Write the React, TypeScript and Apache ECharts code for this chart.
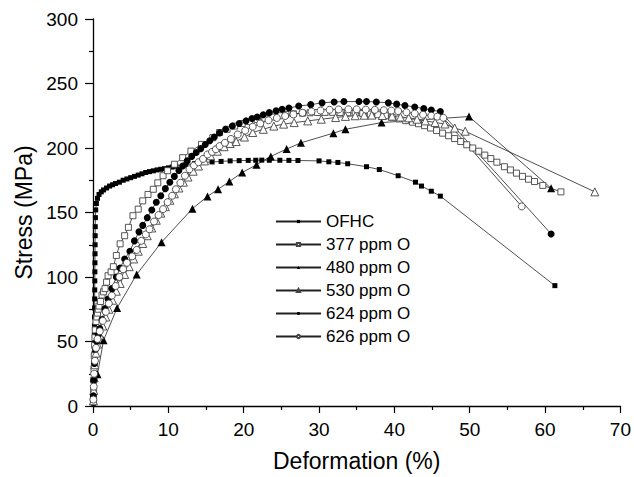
import React, { useEffect, useRef } from "react";
import * as echarts from "echarts";

const seriesNames = ["OFHC", "377 ppm O", "480 ppm O", "530 ppm O", "624 ppm O", "626 ppm O"];

const xRange = [0, 70];
const yRange = [0, 300];

const ofhc: number[][] = [
  [0.05, 2], [0.08, 8], [0.1, 14], [0.12, 20], [0.13, 27], [0.15, 34], [0.16, 41], [0.17, 48],
  [0.18, 55], [0.19, 62], [0.2, 69], [0.21, 76], [0.22, 83], [0.23, 90], [0.24, 97], [0.25, 104],
  [0.26, 111], [0.27, 118], [0.28, 125], [0.29, 132], [0.3, 139], [0.32, 146], [0.36, 152],
  [0.45, 157], [0.6, 161], [0.8, 164], [1.1, 166], [1.4, 167.5], [1.8, 169], [2.2, 170.5],
  [2.6, 171.5], [3.0, 172.5], [3.5, 173.5], [4.0, 175], [4.5, 176], [5.0, 177], [5.5, 178],
  [6.0, 179], [6.5, 180], [7.0, 181], [7.5, 181.7], [8.0, 182.3], [8.5, 183], [9.0, 183.5],
  [9.5, 184], [10, 184.6], [10.5, 185.2], [11, 185.8], [12.3, 187], [13.5, 188], [14.7, 188.7],
  [15.8, 189.2], [17.0, 189.6], [18.2, 190], [19.4, 190.2], [20.6, 190.4], [21.6, 190.5],
  [22.4, 190.6], [23.4, 190.5], [24.8, 190.5], [26, 190.4], [27.2, 190.3], [30, 190],
  [31.3, 189.3], [32.5, 188.8], [33.8, 187.8], [36.3, 185.5], [38, 183.3], [40.5, 178.5],
  [42.8, 173.5], [43.6, 170.5], [44.9, 166.5], [46.1, 162.7], [61.3, 93.3],
];

const ppm377: number[][] = [
  [0.05, 5], [0.08, 12], [0.1, 20], [0.13, 29], [0.17, 39], [0.22, 47], [0.26, 53], [0.3, 59],
  [0.4, 65.5], [0.5, 69], [0.6, 72], [0.7, 75], [0.8, 77.5], [1.0, 81], [1.2, 86], [1.4, 88.5],
  [1.6, 91], [1.8, 96], [2.0, 101], [2.4, 104], [2.7, 108], [3.1, 116.7], [3.6, 125.7],
  [4.2, 132], [4.7, 138.5], [5.3, 147.5], [6.0, 152.6], [6.6, 159], [7.3, 164], [8.0, 168],
  [8.6, 173], [9.3, 178.5], [9.9, 182.4], [10.8, 187.4], [11.9, 192.5], [13, 197.6],
  [14.4, 202.8], [15.9, 208], [16.8, 212], [17.8, 214.5], [18.8, 217], [19.8, 219],
  [20.8, 220.5], [21.8, 222], [22.8, 223], [23.8, 224], [24.8, 225], [25.6, 226], [26.6, 226.5],
  [27.8, 227], [28.8, 227.3], [29.8, 227.5], [30.8, 227.6], [31.8, 227.6], [32.8, 227.5],
  [33.8, 227.3], [34.8, 227], [35.8, 226.7], [36.8, 226.3], [37.8, 225.8], [38.8, 225],
  [39.7, 223.8], [40.6, 222.5], [41.5, 221.2], [42.4, 220], [43.2, 218.8], [44, 217.3],
  [44.8, 215.5], [45.6, 213.5], [46.4, 211.5], [47.2, 209.5], [48, 207.3], [48.8, 205],
  [49.6, 202.5], [50.4, 200], [51.2, 197.5], [52, 194.5], [52.8, 191.8], [53.6, 189],
  [54.6, 185.5], [55.4, 183], [56.2, 180.5], [57, 178], [57.8, 175.8], [58.6, 174],
  [59.7, 171], [62.1, 166],
];

const ppm480: number[][] = [
  [0.05, 4], [0.6, 24.7], [1.4, 51], [3.2, 76], [5.8, 102], [9.1, 127], [13.2, 153],
  [15.2, 162.5], [16.6, 168], [18.1, 174], [19.8, 181], [21.7, 187], [23.6, 193.5],
  [25.7, 199.2], [27.6, 204], [31.9, 211.5], [33.5, 214.5], [38.3, 219.7], [49.9, 224.4],
  [60.8, 168.8],
];

const ppm530: number[][] = [
  [0.05, 4], [0.1, 12], [0.15, 22], [0.25, 32], [0.4, 41], [0.6, 48], [0.9, 55], [1.3, 62],
  [1.7, 69], [2.1, 75], [2.6, 82], [3.1, 89], [3.6, 95], [4.2, 102], [4.8, 108], [5.4, 114],
  [6.0, 120], [6.6, 126], [7.2, 132], [7.8, 138], [8.4, 144], [9.0, 149.5], [9.6, 154.5],
  [10.2, 159.5], [10.8, 164.5], [11.4, 169], [12.0, 173.5], [12.6, 177.5], [13.3, 182],
  [14.0, 186], [14.8, 190], [15.6, 194], [16.5, 197.5], [17.4, 201], [18.2, 203.5], [19, 205],
  [20.1, 208.5], [21.2, 212], [22.6, 214.5], [24, 217], [25.3, 218.5], [26.7, 219.7],
  [28.5, 221], [30.3, 222.3], [32.2, 223.6], [33.5, 224.5], [34.8, 225], [36, 225.4],
  [37, 225.5], [38.4, 225.2], [39.7, 224.7], [40.8, 224], [41.9, 223.4], [43, 222.3],
  [44.1, 221], [45.4, 219.8], [46.7, 218.6], [48, 215.5], [49.4, 213], [66.6, 166],
];

const ppm624: number[][] = [
  [0.05, 8], [0.1, 20], [0.2, 33], [0.35, 44], [0.5, 50], [0.7, 55], [0.9, 60], [1.2, 67],
  [1.6, 75.5], [2.0, 83], [2.5, 91], [3.1, 100], [3.6, 107], [4.2, 114], [4.9, 120],
  [5.5, 128], [6.1, 135], [6.6, 140], [7.2, 146], [7.8, 152], [8.4, 158], [9.0, 163],
  [9.6, 168.5], [10.2, 173.5], [10.8, 178], [11.4, 182.5], [11.9, 186], [12.5, 190],
  [13.1, 193.5], [13.7, 196.5], [14.3, 199.5], [14.9, 202.7], [15.5, 205.6], [16.1, 208.5],
  [16.8, 211.7], [17.6, 214.5], [18.5, 217], [19.4, 219], [20.3, 221], [21.1, 222.8],
  [21.8, 224], [22.6, 225.8], [23.4, 227.4], [24.3, 228.8], [25.1, 230], [26, 231],
  [27.3, 232.5], [28.9, 233.6], [30.4, 235], [32, 235.7], [33.3, 236], [35.3, 236],
  [36.3, 236], [37.6, 235.7], [39.2, 235], [40.3, 234], [41.4, 233], [42.7, 231.8],
  [43.9, 230.5], [44.9, 229.5], [46.1, 228.2], [60.8, 133.4],
];

const ppm626: number[][] = [
  [0.05, 5], [0.1, 15], [0.15, 25], [0.25, 35], [0.4, 45], [0.6, 52], [0.9, 58], [1.3, 66],
  [1.7, 73], [2.1, 79.5], [2.5, 85.6], [3.0, 93], [3.5, 100], [4.0, 106], [4.5, 111],
  [5.2, 116], [5.8, 121], [6.4, 128], [7.0, 133], [7.5, 137], [8.1, 143], [8.7, 148],
  [9.3, 152.6], [9.9, 158], [10.5, 163], [11, 168], [11.6, 173], [12.2, 178.5], [12.8, 183.5],
  [13.4, 186.5], [14.0, 189], [14.6, 191.5], [15.2, 195], [15.8, 197], [16.3, 199],
  [16.8, 201.5], [17.5, 204], [18.3, 207], [19.2, 210.5], [20.2, 213.5], [21.2, 216.5],
  [22.2, 219], [23.3, 221.5], [24.4, 223.3], [25.5, 224.8], [26.6, 226], [27.8, 227.3],
  [29, 228.3], [30.2, 229], [31.4, 229.6], [32.6, 229.9], [33.9, 230], [35, 230],
  [36.2, 229.8], [37.4, 229.6], [38.6, 229.3], [39.6, 229], [40.5, 228.6], [41.6, 227.7],
  [42.7, 226.7], [43.8, 225.8], [44.9, 225], [45.7, 224.3], [46.5, 223.4], [56.9, 154.7],
];

const FONT = "'Liberation Sans', Arial, sans-serif";

function mk(name: string, data: number[][], symbol: string, size: number, filled: boolean) {
  return {
    name,
    type: "line",
    data,
    symbol,
    symbolSize: size,
    showAllSymbol: true,
    lineStyle: { color: "#222", width: 0.8 },
    itemStyle: filled
      ? { color: "#000", borderColor: "#000", borderWidth: 0 }
      : { color: "#fff", borderColor: "#444", borderWidth: 0.9 },
    emphasis: { disabled: true },
  };
}

export default function App() {
  const ref = useRef<HTMLDivElement>(null);
  useEffect(() => {
    const chart = echarts.init(ref.current!, null, { renderer: "svg" });
    chart.setOption({
      animation: false,
      backgroundColor: "#fff",
      textStyle: { fontFamily: FONT },
      grid: { left: 93, right: 11, top: 19, bottom: 69 },
      legend: {
        orient: "vertical",
        left: 270,
        top: 208,
        itemWidth: 45,
        itemHeight: 4,
        itemGap: 6,
        data: seriesNames,
        textStyle: { fontFamily: FONT, fontSize: 17, color: "#000" },
      },
      xAxis: {
        type: "value",
        min: xRange[0],
        max: xRange[1],
        interval: 10,
        name: "Deformation (%)",
        nameLocation: "middle",
        nameGap: 43,
        nameTextStyle: { fontFamily: FONT, fontSize: 23, color: "#000" },
        axisLine: { show: true, lineStyle: { color: "#000", width: 1.3 } },
        axisTick: { show: true, length: 7, lineStyle: { color: "#000", width: 1.2 } },
        minorTick: { show: true, splitNumber: 2, length: 4, lineStyle: { color: "#000", width: 1.2 } },
        axisLabel: { fontFamily: FONT, fontSize: 19, color: "#000", margin: 14 },
        splitLine: { show: false },
      },
      yAxis: {
        type: "value",
        min: yRange[0],
        max: yRange[1],
        interval: 50,
        name: "Stress (MPa)",
        nameLocation: "middle",
        nameGap: 58,
        nameTextStyle: { fontFamily: FONT, fontSize: 23, color: "#000" },
        axisLine: { show: true, lineStyle: { color: "#000", width: 1.3 } },
        axisTick: { show: true, length: 8, lineStyle: { color: "#000", width: 1.2 } },
        minorTick: { show: true, splitNumber: 2, length: 4, lineStyle: { color: "#000", width: 1.2 } },
        axisLabel: { fontFamily: FONT, fontSize: 19, color: "#000", margin: 15 },
        splitLine: { show: false },
      },
      series: [
        mk(seriesNames[0], ofhc, "rect", 5, true),
        mk(seriesNames[1], ppm377, "rect", 6, false),
        mk(seriesNames[2], ppm480, "triangle", 8, true),
        mk(seriesNames[3], ppm530, "triangle", 8, false),
        mk(seriesNames[4], ppm624, "circle", 7, true),
        mk(seriesNames[5], ppm626, "circle", 7, false),
      ],
    });
    return () => chart.dispose();
  }, []);
  return (
    <div
      ref={ref}
      style={{ position: "absolute", left: 0, top: 0, width: 634, height: 477, background: "#fff" }}
    />
  );
}
